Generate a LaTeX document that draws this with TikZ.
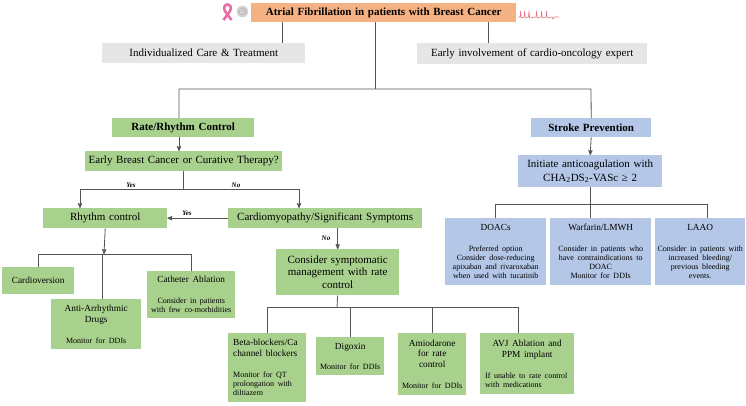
\documentclass[tikz,border=0pt]{standalone}
\usepackage{fontspec}
\setmainfont{Liberation Serif}
\usepackage{tikz}
\usetikzlibrary{arrows}
\usetikzlibrary{positioning}

\definecolor{headorange}{RGB}{244,177,131}
\definecolor{boxgreen}{RGB}{169,209,142}
\definecolor{boxblue}{RGB}{180,199,231}
\definecolor{boxgray}{RGB}{231,230,230}
\definecolor{linegray}{RGB}{85,85,85}
\definecolor{ribbonpink}{RGB}{232,110,165}
\definecolor{ecgred}{RGB}{226,120,135}

\newcommand{\headfont}{\fontsize{11}{13}\selectfont}
\newcommand{\titlefont}{\fontsize{9.3}{10.8}\selectfont}
\newcommand{\notefont}{\fontsize{8}{9}\selectfont}

\begin{document}
\begin{tikzpicture}[x=1pt, y=-1pt, box/.style={rectangle, anchor=north west, inner xsep=3pt, inner ysep=0pt, align=center, font=\headfont}, headbox/.style={box, fill=headorange, font=\headfont\bfseries}, graybox/.style={box, fill=boxgray}, greenbox/.style={box, fill=boxgreen}, bluebox/.style={box, fill=boxblue}, answer/.style={font=\fontsize{7}{8}\selectfont\bfseries\itshape, inner sep=1pt}, line/.style={draw=linegray, line width=0.8pt}, arrow/.style={line, ->, >=stealth'}]
\useasboundingbox (0,0) rectangle (746,405);
% title row
\node [headbox, text width=259pt, minimum height=19pt] (af) at (251,3) {Atrial Fibrillation in patients with Breast Cancer};
\node [graybox, text width=197pt, minimum height=20pt] (indiv) at (102,43) {Individualized Care \& Treatment};
\node [graybox, text width=224pt, minimum height=21pt] (early) at (417,43) {Early involvement of cardio-oncology expert};
% icons
\draw [ribbonpink, line width=2.6pt] (223.5,20) -- (229.8,11.5) .. controls (232,8) and (230.5,4.5) .. (227.5,4.5) .. controls (224.5,4.5) and (223,8) .. (225.2,11.5) -- (231.5,20);
\fill [gray!35] (242.5,11.5) circle (5.8);
\draw [gray!60, line width=0.6pt] (242.5,11.5) circle (3.5);
\fill [ribbonpink!70] (243,11) circle (1);
\draw [ecgred, line width=0.6pt] (518,17) -- (520,17) -- (520.6,11) -- (521.2,18) -- (524,17) -- (524.6,11) -- (525.2,18) -- (528.4,17) -- (529,11) -- (529.6,18) -- (536,17) -- (536.6,11) -- (537.2,18) -- (541,17) -- (541.6,11) -- (542.2,18) -- (546,17) -- (546.6,11) -- (547.2,18) -- (552,17) -- (553,19) -- (554,17) -- (559,17);
% branches
\node [greenbox, text width=136pt, minimum height=19pt, font=\headfont\bfseries] (rate) at (112,118) {Rate/Rhythm Control};
\node [bluebox, text width=114pt, minimum height=19pt, font=\headfont\bfseries] (stroke) at (531,118) {Stroke Prevention};
\coordinate (hub) at (375,89);
\coordinate (hubL) at (179,89);
\coordinate (hubR) at (591,89);
\coordinate (indivTop) at (282,43);
\coordinate (earlyTop) at (488,43);
\draw [line] (af.south -| indivTop) -- (indivTop);
\draw [line] (af.south -| earlyTop) -- (earlyTop);
\draw [line] (af.south -| hub) -- (hub);
\draw [line] (rate.north -| hubL) -- (hubL) -- (hubR) -- (stroke.north);
% rate/rhythm side
\node [greenbox, text width=191pt, minimum height=20pt] (ebc) at (85,151) {Early Breast Cancer or Curative Therapy?};
\node [greenbox, text width=118pt, minimum height=20pt] (rhythm) at (43,208) {Rhythm control};
\node [greenbox, text width=188pt, minimum height=20pt] (cardio) at (228,208) {Cardiomyopathy/Significant Symptoms};
\node [greenbox, text width=117pt, minimum height=46pt, font=\fontsize{11}{12.5}\selectfont] (consider) at (276,249) {Consider symptomatic\\management with rate\\control};
\draw [arrow] (rate.south -| hubL) -- (ebc.north -| hubL);
\coordinate (split) at (183,189);
\coordinate (splitL) at (80,189);
\coordinate (splitR) at (299,189);
\draw [line] (ebc.south -| split) -- (split);
\draw [line] (splitL) -- (splitR);
\draw [arrow] (splitL) -- (rhythm.north -| splitL);
\draw [arrow] (splitR) -- (cardio.north -| splitR);
\node [answer, above] (yes1) at (131,189) {Yes};
\node [answer, above] (no1) at (236,189) {No};
\draw [arrow] (cardio.west) -- (rhythm.east);
\node [answer] (yes2) at (187,213) {Yes};
\draw [arrow] (cardio.south -| consider.north) -- (consider.north);
\node [answer] (no2) at (326,238) {No};
% rhythm control options
\node [greenbox, text width=66pt, minimum height=27pt, font=\titlefont] (cardv) at (2,267) {Cardioversion\\[3pt]};
\node [greenbox, text width=84pt, minimum height=50pt] (aad) at (51,299) {{\titlefont Anti-Arrhythmic\\Drugs\par}\vspace{12pt}{\notefont Monitor for DDIs\par}};
\node [greenbox, text width=82pt, minimum height=47pt] (cath) at (147,271) {{\titlefont Catheter Ablation\par}\vspace{12pt}{\notefont Consider in patients\\with few co-morbidities\par}};
\coordinate (rhyHub) at (104,254);
\coordinate (aadTop) at (102,254);
\draw [arrow] (rhythm.south) -- (rhyHub);
\draw [line] (cardv.north) -- (cardv.north |- rhyHub) -- (cath.north |- rhyHub) -- (cath.north);
\draw [line] (aadTop) -- (aad.north -| aadTop);
% rate control options
\node [greenbox, inner xsep=5pt, text width=68pt, minimum height=69pt, align=left] (beta) at (228,333) {{\titlefont Beta-blockers/Ca\\channel blockers\par}\vspace{12pt}{\notefont Monitor for QT\\prolongation with\\diltiazem\par}};
\node [greenbox, text width=62pt, minimum height=38pt] (dig) at (316,337) {{\titlefont Digoxin\par}\vspace{11pt}{\notefont Monitor for DDIs\par}};
\node [greenbox, text width=62pt, minimum height=62pt] (amio) at (398,333) {{\titlefont Amiodarone\\for rate\\control\par}\vspace{12pt}{\notefont Monitor for DDIs\par}};
\node [greenbox, inner xsep=5pt, text width=84pt, minimum height=61pt] (avj) at (480,333) {{\titlefont AVJ Ablation and\\PPM implant\par}\vspace{12pt}{\raggedright\notefont \mbox{If unable to rate control}\\with medications\par}};
\coordinate (rateHub) at (337,307);
\coordinate (avjTop) at (518,307);
\draw [line] (consider.south) -- (rateHub);
\draw [line] (beta.north) -- (beta.north |- rateHub) -- (avjTop) -- (avj.north -| avjTop);
\draw [line] (dig.north) -- (dig.north |- rateHub);
\draw [line] (amio.north) -- (amio.north |- rateHub);
% stroke prevention side
\node [bluebox, text width=138pt, minimum height=32pt, font=\fontsize{11}{14}\selectfont] (init) at (518,155) {Initiate anticoagulation with\\CHA\textsubscript{2}DS\textsubscript{2}-VASc ≥ 2};
\draw [arrow] (stroke.south) -- (init.north);
\node [bluebox, text width=95pt, minimum height=67pt] (doacs) at (445,218) {{\titlefont DOACs\par}\vspace{12pt}{\notefont Preferred option\\Consider dose-reducing\\apixaban and rivaroxaban\\when used with tucatinib\par}};
\node [bluebox, text width=95pt, minimum height=67pt] (warf) at (550,218) {{\titlefont Warfarin/LMWH\par}\vspace{12pt}{\notefont Consider in patients who\\have contraindications to\\DOAC\\Monitor for DDIs\par}};
\node [bluebox, text width=86pt, inner xsep=2pt, minimum height=67pt] (laao) at (655,218) {{\titlefont LAAO\par}\vspace{12pt}{\notefont Consider in patients with\\increased bleeding/\\previous bleeding\\events.\par}};
\coordinate (acHub) at (591,204);
\coordinate (laaoTop) at (707,204);
\draw [line] (init.south) -- (init.south |- warf.north);
\draw [line] (doacs.north) -- (doacs.north |- acHub) -- (laaoTop) -- (laaoTop |- laao.north);
\end{tikzpicture}
\end{document}
